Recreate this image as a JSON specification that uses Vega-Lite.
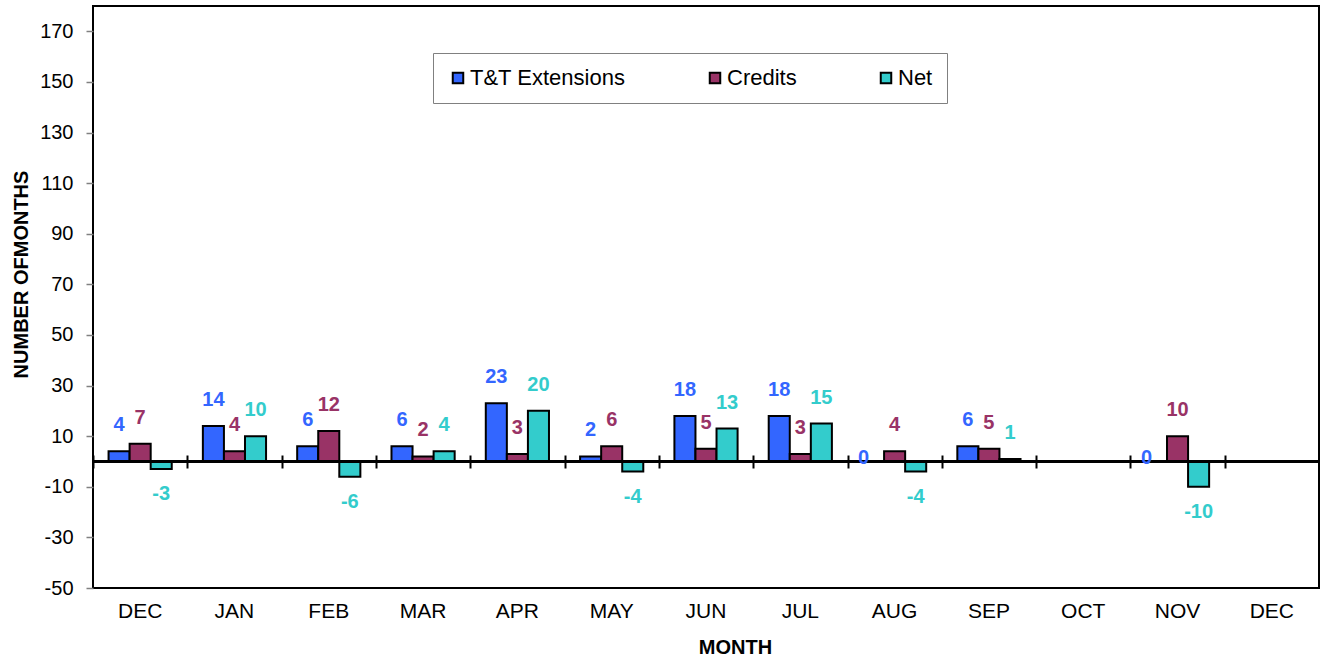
{
  "$schema": "https://vega.github.io/schema/vega-lite/v6.json",
  "width": 1226,
  "height": 582,
  "autosize": "none",
  "padding": {"left": 93, "top": 6, "right": 5, "bottom": 72},
  "background": "white",
  "config": {"view": {"stroke": "black", "strokeWidth": 2}, "font": "Liberation Sans"},
  "data": {"values": [
    {"month": "DEC", "series": "T&T Extensions", "value": 4},
    {"month": "DEC", "series": "Credits", "value": 7},
    {"month": "DEC", "series": "Net", "value": -3},
    {"month": "JAN", "series": "T&T Extensions", "value": 14},
    {"month": "JAN", "series": "Credits", "value": 4},
    {"month": "JAN", "series": "Net", "value": 10},
    {"month": "FEB", "series": "T&T Extensions", "value": 6},
    {"month": "FEB", "series": "Credits", "value": 12},
    {"month": "FEB", "series": "Net", "value": -6},
    {"month": "MAR", "series": "T&T Extensions", "value": 6},
    {"month": "MAR", "series": "Credits", "value": 2},
    {"month": "MAR", "series": "Net", "value": 4},
    {"month": "APR", "series": "T&T Extensions", "value": 23},
    {"month": "APR", "series": "Credits", "value": 3},
    {"month": "APR", "series": "Net", "value": 20},
    {"month": "MAY", "series": "T&T Extensions", "value": 2},
    {"month": "MAY", "series": "Credits", "value": 6},
    {"month": "MAY", "series": "Net", "value": -4},
    {"month": "JUN", "series": "T&T Extensions", "value": 18},
    {"month": "JUN", "series": "Credits", "value": 5},
    {"month": "JUN", "series": "Net", "value": 13},
    {"month": "JUL", "series": "T&T Extensions", "value": 18},
    {"month": "JUL", "series": "Credits", "value": 3},
    {"month": "JUL", "series": "Net", "value": 15},
    {"month": "AUG", "series": "T&T Extensions", "value": 0},
    {"month": "AUG", "series": "Credits", "value": 4},
    {"month": "AUG", "series": "Net", "value": -4},
    {"month": "SEP", "series": "T&T Extensions", "value": 6},
    {"month": "SEP", "series": "Credits", "value": 5},
    {"month": "SEP", "series": "Net", "value": 1},
    {"month": "NOV", "series": "T&T Extensions", "value": 0},
    {"month": "NOV", "series": "Credits", "value": 10},
    {"month": "NOV", "series": "Net", "value": -10}
  ]},
  "layer": [
    {
      "mark": {"type": "bar", "stroke": "black", "strokeWidth": 2},
      "encoding": {
        "x": {
          "field": "month", "type": "nominal", "sort": null,
          "scale": {"domain": ["DEC", "JAN", "FEB", "MAR", "APR", "MAY", "JUN", "JUL", "AUG", "SEP", "OCT", "NOV", "DEC2"], "paddingInner": 0.33, "paddingOuter": 0.165},
          "axis": {
            "orient": "bottom",
            "title": "MONTH", "labelExpr": "slice(datum.label, 0, 3)", "labelAngle": 0,
            "labelFontSize": 21, "labelColor": "black", "ticks": false, "domain": false,
            "labelPadding": 12, "titleFontSize": 20, "titleFontWeight": "bold", "titleColor": "black",
            "titleX": 642, "titleY": 59, "titleBaseline": "middle"
          }
        },
        "xOffset": {"field": "series", "type": "nominal", "sort": ["T&T Extensions", "Credits", "Net"], "scale": {"paddingInner": 0, "paddingOuter": 0}},
        "y": {
          "field": "value", "type": "quantitative",
          "scale": {"domain": [-50, 180], "nice": false, "zero": false},
          "axis": {
            "values": [-50, -30, -10, 10, 30, 50, 70, 90, 110, 130, 150, 170],
            "labelExpr": "'' + datum.value",
            "title": "NUMBER OFMONTHS", "grid": false, "domain": false,
            "tickColor": "#808080", "tickSize": 7, "tickWidth": 1.5,
            "labelFontSize": 20, "labelPadding": 13, "labelColor": "black",
            "titleFontSize": 20, "titleFontWeight": "bold", "titleColor": "black",
            "titleX": -72, "titleY": 268, "titleBaseline": "middle", "titleAngle": 270
          }
        },
        "color": {
          "field": "series", "type": "nominal",
          "scale": {"domain": ["T&T Extensions", "Credits", "Net"], "range": ["#3366FF", "#993366", "#33CCCC"]},
          "legend": {
            "title": null,
            "orient": "none", "legendX": 340, "legendY": 47, "direction": "horizontal",
            "columns": 3, "columnPadding": 78, "padding": 14,
            "strokeColor": "#808080", "fillColor": "white",
            "labelFontSize": 22, "labelColor": "black", "labelOffset": 1, "labelLimit": 400,
            "symbolType": "square", "symbolSize": 110, "symbolStrokeColor": "black", "symbolStrokeWidth": 2
          }
        }
      }
    },
    {
      "mark": {"type": "rule", "color": "black", "strokeWidth": 3},
      "encoding": {"y": {"datum": 0}}
    },
    {
      "transform": [{"filter": "datum.value > 0"}],
      "mark": {"type": "text", "fontSize": 20, "fontWeight": "bold", "baseline": "middle", "dy": -26},
      "encoding": {
        "x": {
          "field": "month", "type": "nominal", "sort": null,
          "axis": {"orient": "bottom", "offset": -133, "labels": false, "title": null, "domain": false,
                   "ticks": true, "tickSize": 13, "tickWidth": 2, "tickColor": "black", "bandPosition": 0, "tickOffset": -15.5}
        },
        "xOffset": {"field": "series", "type": "nominal", "sort": ["T&T Extensions", "Credits", "Net"]},
        "y": {"field": "value", "type": "quantitative"},
        "text": {"field": "value", "type": "nominal"},
        "color": {"field": "series", "type": "nominal", "legend": null}
      }
    },
    {
      "transform": [{"filter": "datum.value < 0"}],
      "mark": {"type": "text", "fontSize": 20, "fontWeight": "bold", "baseline": "middle", "dy": 25},
      "encoding": {
        "x": {"field": "month", "type": "nominal", "sort": null, "axis": null},
        "xOffset": {"field": "series", "type": "nominal", "sort": ["T&T Extensions", "Credits", "Net"]},
        "y": {"field": "value", "type": "quantitative"},
        "text": {"field": "value", "type": "nominal"},
        "color": {"field": "series", "type": "nominal", "legend": null}
      }
    },
    {
      "transform": [{"filter": "datum.value == 0"}],
      "mark": {"type": "text", "fontSize": 20, "fontWeight": "bold", "baseline": "middle", "dy": -3, "dx": -10},
      "encoding": {
        "x": {"field": "month", "type": "nominal", "sort": null, "axis": null},
        "xOffset": {"field": "series", "type": "nominal", "sort": ["T&T Extensions", "Credits", "Net"]},
        "y": {"field": "value", "type": "quantitative"},
        "text": {"field": "value", "type": "nominal"},
        "color": {"field": "series", "type": "nominal", "legend": null}
      }
    }
  ],
  "resolve": {"axis": {"x": "independent"}}
}
